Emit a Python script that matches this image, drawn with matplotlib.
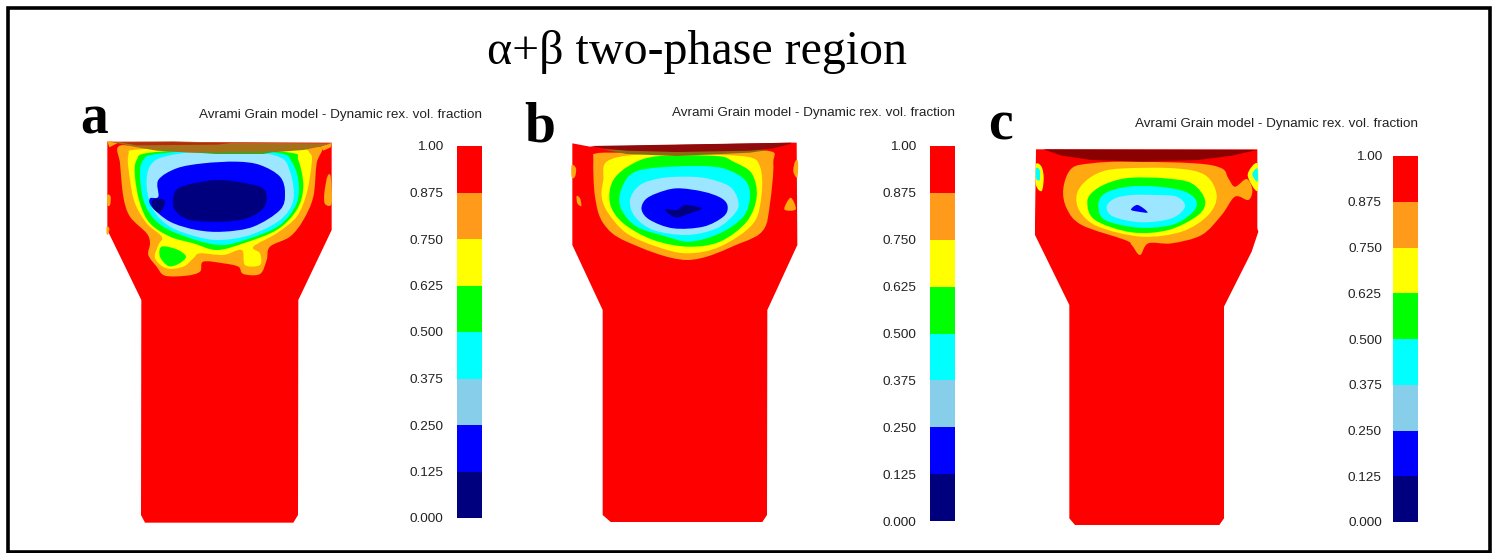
import matplotlib
matplotlib.use('Agg')
import matplotlib.pyplot as plt
from matplotlib.path import Path
from matplotlib.patches import PathPatch, Rectangle

W, H = 1499, 553

# colour bands, low to high
levels = [0.0, 0.125, 0.25, 0.375, 0.5, 0.625, 0.75, 0.875]
band_width = 0.125
tick_vals = [0.0, 0.125, 0.25, 0.375, 0.5, 0.625, 0.75, 0.875, 1.0]
tick_labels = ['0.000', '0.125', '0.250', '0.375', '0.500', '0.625', '0.750', '0.875', '1.00']
navy, blue, sky, cyan, green, yellow, orange, red = ['#00007f', '#0000ff', '#9ce6ff', '#00ffff',
                                                     '#00ff00', '#ffff00', '#ffa812', '#ff0000']
bar_colors = [navy, blue, '#87ceeb', cyan, green, yellow, '#ff9a1a', red]

panel_letters = ['a', 'b', 'c']
panel_title = 'Avrami Grain model - Dynamic rex. vol. fraction'

origin_a = (90, 130)
body_a = [(52, 35), (725, 38), (725, 300), (625, 510), (624, 1155), (610, 1178), (165, 1178), (153, 1155), (154, 510), (52, 300)]
orange_a = [(85, 50), (90, 100), (100, 200), (120, 260), (170, 310), (180, 340), (175, 375), (200, 410), (225, 437), (290, 437),
            (330, 425), (340, 395), (400, 400), (445, 410), (460, 432), (510, 432), (530, 390), (540, 350), (600, 320),
            (640, 270), (670, 200), (680, 100), (695, 55), (640, 47), (400, 47), (150, 47)]
yellow_a = [(115, 75), (120, 150), (135, 220), (170, 280), (215, 320), (205, 345), (195, 385), (230, 415), (280, 410), (310, 385),
            (330, 370), (400, 375), (455, 360), (465, 405), (510, 405), (510, 370), (490, 350), (560, 310), (620, 260),
            (650, 190), (665, 100), (660, 70), (620, 55), (400, 52), (150, 58)]
green_a = [(140, 90), (135, 140), (150, 220), (180, 280), (240, 320), (310, 340), (380, 360), (460, 340), (560, 300),
           (620, 240), (640, 170), (625, 90), (600, 68), (400, 56), (180, 68)]
green_a2 = [(215, 350), (210, 380), (235, 408), (265, 402), (288, 380), (260, 358)]
cyan_a = [(160, 90), (150, 130), (160, 210), (195, 270), (260, 310), (385, 345), (480, 325), (570, 285), (620, 220),
          (625, 150), (605, 95), (570, 70), (400, 58), (200, 72)]
sky_a = [(182, 105), (170, 170), (190, 240), (240, 290), (320, 320), (390, 330), (480, 315), (570, 270), (610, 210),
         (600, 125), (560, 78), (400, 60), (240, 76)]
blue_a = [(205, 150), (205, 200), (180, 205), (185, 230), (240, 275), (320, 300), (400, 305), (490, 290), (570, 240),
          (585, 190), (570, 140), (510, 105), (440, 95), (340, 100), (260, 115)]
navy_a = [(250, 200), (255, 240), (300, 270), (400, 275), (470, 265), (520, 235), (530, 195), (510, 170), (440, 155),
          (380, 150), (310, 160), (265, 175)]
navy_a2 = [(190, 208), (225, 212), (210, 247), (188, 232)]
# the top wedge has sharp tips, these stay plain polygons
brown_a = [(60, 36), (250, 34), (400, 38), (725, 40), (690, 50), (640, 60), (560, 66), (400, 70), (300, 68), (200, 62), (130, 50), (85, 40)]
dred_a = [(90, 37), (250, 36), (420, 40), (380, 44), (250, 45), (140, 46)]
olive_a = [(300, 67), (560, 64), (520, 72), (380, 72)]
tip_a = [(52, 33), (85, 38), (58, 52)]
tip_a2 = [(690, 50), (725, 38), (722, 52), (700, 62)]
specks_a = [[(712, 140), (722, 140), (725, 220), (705, 222), (703, 190)], [(52, 195), (62, 200), (60, 225), (52, 225)],
            [(50, 290), (58, 295), (55, 312), (50, 312)]]

origin_b = (560, 130)
body_b = [(37, 40), (90, 50), (695, 38), (710, 38), (712, 345), (622, 540), (621, 1155), (607, 1176), (152, 1176), (128, 1155), (128, 540), (37, 345)]
orange_b = [(110, 70), (100, 90), (105, 200), (130, 280), (200, 335), (380, 390), (540, 340), (610, 300), (630, 220),
            (640, 100), (620, 62), (400, 68), (200, 68)]
yellow_b = [(140, 95), (130, 150), (125, 200), (145, 250), (200, 310), (290, 350), (380, 370), (480, 350), (580, 280),
            (605, 190), (600, 110), (560, 80), (400, 74), (230, 74)]
green_b = [(300, 78), (220, 100), (160, 150), (150, 220), (190, 280), (280, 330), (385, 350), (480, 335), (560, 275),
           (590, 200), (575, 130), (520, 95), (470, 78)]
cyan_b = [(270, 115), (210, 135), (180, 190), (185, 240), (230, 290), (320, 320), (390, 335), (480, 310), (550, 260),
          (570, 200), (555, 150), (490, 115), (400, 108)]
sky_b = [(300, 145), (240, 165), (210, 210), (225, 260), (280, 300), (380, 315), (470, 295), (525, 250), (535, 215),
         (510, 170), (440, 145), (370, 140)]
blue_b = [(290, 190), (255, 210), (245, 240), (270, 270), (340, 295), (430, 290), (490, 260), (503, 230), (485, 205),
          (430, 185), (350, 175)]
navy_b = [(315, 238), (350, 240), (375, 225), (425, 235), (390, 250), (345, 262)]
brown_b = [(125, 58), (200, 60), (350, 64), (570, 58), (625, 60), (570, 68), (350, 78), (200, 72)]
dred_b = [(90, 48), (695, 38), (690, 42), (640, 55), (570, 62), (350, 66), (200, 62), (130, 55)]
specks_b = [[(705, 95), (700, 125), (712, 142), (714, 95)], [(35, 105), (48, 115), (45, 140), (35, 142)],
            [(50, 198), (60, 205), (64, 228), (52, 220)], [(692, 203), (673, 238), (707, 238)]]

origin_c = (1025, 135)
body_c = [(33, 43), (697, 43), (697, 280), (700, 290), (680, 350), (597, 515), (597, 1150), (583, 1170), (150, 1170), (133, 1150),
          (133, 510), (30, 300), (30, 260)]
orange_c = [(140, 100), (115, 160), (125, 220), (170, 270), (300, 315), (320, 330), (345, 360), (370, 325), (440, 325),
            (530, 300), (590, 240), (630, 185), (670, 195), (682, 165), (665, 132), (630, 155), (610, 130), (590, 100),
            (510, 85), (300, 80), (200, 85)]
yellow_c = [(180, 140), (155, 180), (165, 230), (220, 275), (350, 305), (470, 290), (550, 240), (575, 180), (540, 120),
            (450, 100), (300, 100), (230, 110)]
green_c = [(210, 165), (187, 200), (210, 255), (320, 292), (430, 285), (520, 240), (540, 195), (500, 145), (420, 130),
           (320, 128), (260, 140)]
cyan_c = [(240, 175), (220, 210), (240, 255), (340, 278), (440, 270), (500, 235), (515, 200), (480, 170), (400, 155),
          (310, 155)]
sky_c = [(270, 190), (245, 215), (265, 245), (350, 262), (440, 250), (480, 215), (455, 185), (390, 180), (320, 180)]
blue_c = [(318, 224), (338, 210), (368, 232), (340, 230)]
dred_c = [(55, 43), (695, 45), (620, 62), (520, 75), (350, 80), (200, 75), (110, 62)]
specks_c = [[(33, 88), (50, 96), (56, 130), (50, 168), (33, 150)], [(697, 85), (668, 120), (697, 168)]]
specks_c_in = [[(33, 100), (44, 105), (44, 135), (33, 130)], [(697, 100), (682, 118), (697, 140)]]

# colorbar boxes in pixels: left, right, top, bottom
bar_boxes = [(457, 482, 146, 518), (930, 955, 146, 521), (1393, 1418, 156, 522)]
tick_pads = [10, 10, 8]
title_pos = [(482, 115), (955, 113), (1418, 124)]
letter_pos = [(80, 134), (524, 141), (988, 139)]


def make_patch(pts, origin, color, corners=False):
    # closed cubic curve through all the points, corners=True keeps straight edges
    xy = [(origin[0] + x / 3, origin[1] + y / 3) for x, y in pts]
    n = len(xy)
    if corners:
        verts = xy + [xy[0]]
        codes = [Path.MOVETO] + [Path.LINETO] * (n - 1) + [Path.CLOSEPOLY]
    else:
        verts = [xy[0]]
        codes = [Path.MOVETO]
        for i in range(n):
            p0, p1, p2, p3 = xy[i - 1], xy[i], xy[(i + 1) % n], xy[(i + 2) % n]
            c1 = (p1[0] + (p2[0] - p0[0]) / 6, p1[1] + (p2[1] - p0[1]) / 6)
            c2 = (p2[0] - (p3[0] - p1[0]) / 6, p2[1] - (p3[1] - p1[1]) / 6)
            verts += [c1, c2, p2]
            codes += [Path.CURVE4] * 3
    return PathPatch(Path(verts, codes), facecolor=color, edgecolor='none', lw=0)


plt.rcParams['font.family'] = ['Liberation Sans', 'DejaVu Sans']
fig = plt.figure(figsize=(W / 100, H / 100), dpi=100)
ax = fig.add_axes([0, 0, 1, 1])
ax.set_xlim(0, W)
ax.set_ylim(H, 0)
ax.axis('off')

ax.add_patch(Rectangle((8, 8), 1482, 544, fill=False, edgecolor='black', lw=2.6))

panels = [
    (origin_a, body_a, [(orange_a, orange), (yellow_a, yellow), (green_a, green), (green_a2, green), (cyan_a, cyan),
                        (sky_a, sky), (blue_a, blue), (navy_a, navy), (navy_a2, navy)],
     [(s, orange) for s in specks_a],
     [(tip_a, orange), (tip_a2, orange), (brown_a, '#a5701a'), (olive_a, '#4f9a20'), (dred_a, '#b52a10')]),
    (origin_b, body_b, [(orange_b, orange), (yellow_b, yellow), (green_b, green), (cyan_b, cyan), (sky_b, sky), (blue_b, blue),
                        (navy_b, navy)],
     [(s, orange) for s in specks_b],
     [(brown_b, '#8c6a10'), (dred_b, '#8f0a0a')]),
    (origin_c, body_c, [(orange_c, orange), (yellow_c, yellow), (green_c, green), (cyan_c, cyan), (sky_c, sky), (blue_c, blue)],
     [(s, yellow) for s in specks_c] + [(s, cyan) for s in specks_c_in],
     [(dred_c, '#8b0000')]),
]

for origin, body, contours, specks, wedges in panels:
    ax.add_patch(make_patch(body, origin, red, corners=True))
    for pts, col in specks + contours:
        ax.add_patch(make_patch(pts, origin, col))
    for pts, col in wedges:
        ax.add_patch(make_patch(pts, origin, col, corners=True))

for i in range(3):
    ax.text(title_pos[i][0], title_pos[i][1], panel_title, ha='right', va='center', fontsize=9.7, color='#222222')
    ax.text(letter_pos[i][0], letter_pos[i][1], panel_letters[i], ha='left', va='baseline', fontsize=40,
            fontweight='bold', family=['Liberation Serif', 'DejaVu Serif'], color='black')

    left, right, top, bottom = bar_boxes[i]
    cax = fig.add_axes([left / W, 1 - bottom / H, (right - left) / W, (bottom - top) / H])
    cax.bar([0.5] * len(levels), [band_width] * len(levels), bottom=levels, width=1, color=bar_colors, align='center')
    cax.set_xlim(0, 1)
    cax.set_ylim(0, 1)
    cax.set_xticks([])
    cax.set_yticks(tick_vals)
    cax.set_yticklabels(tick_labels, fontsize=9.7, color='#222222')
    cax.tick_params(axis='y', length=0, pad=tick_pads[i])
    for s in cax.spines.values():
        s.set_visible(False)

ax.text(697, 52, 'α+β two-phase region', ha='center', va='center', fontsize=34.5,
        family=['Liberation Serif', 'DejaVu Serif'], color='black')

fig.savefig('out.png', dpi=100)
